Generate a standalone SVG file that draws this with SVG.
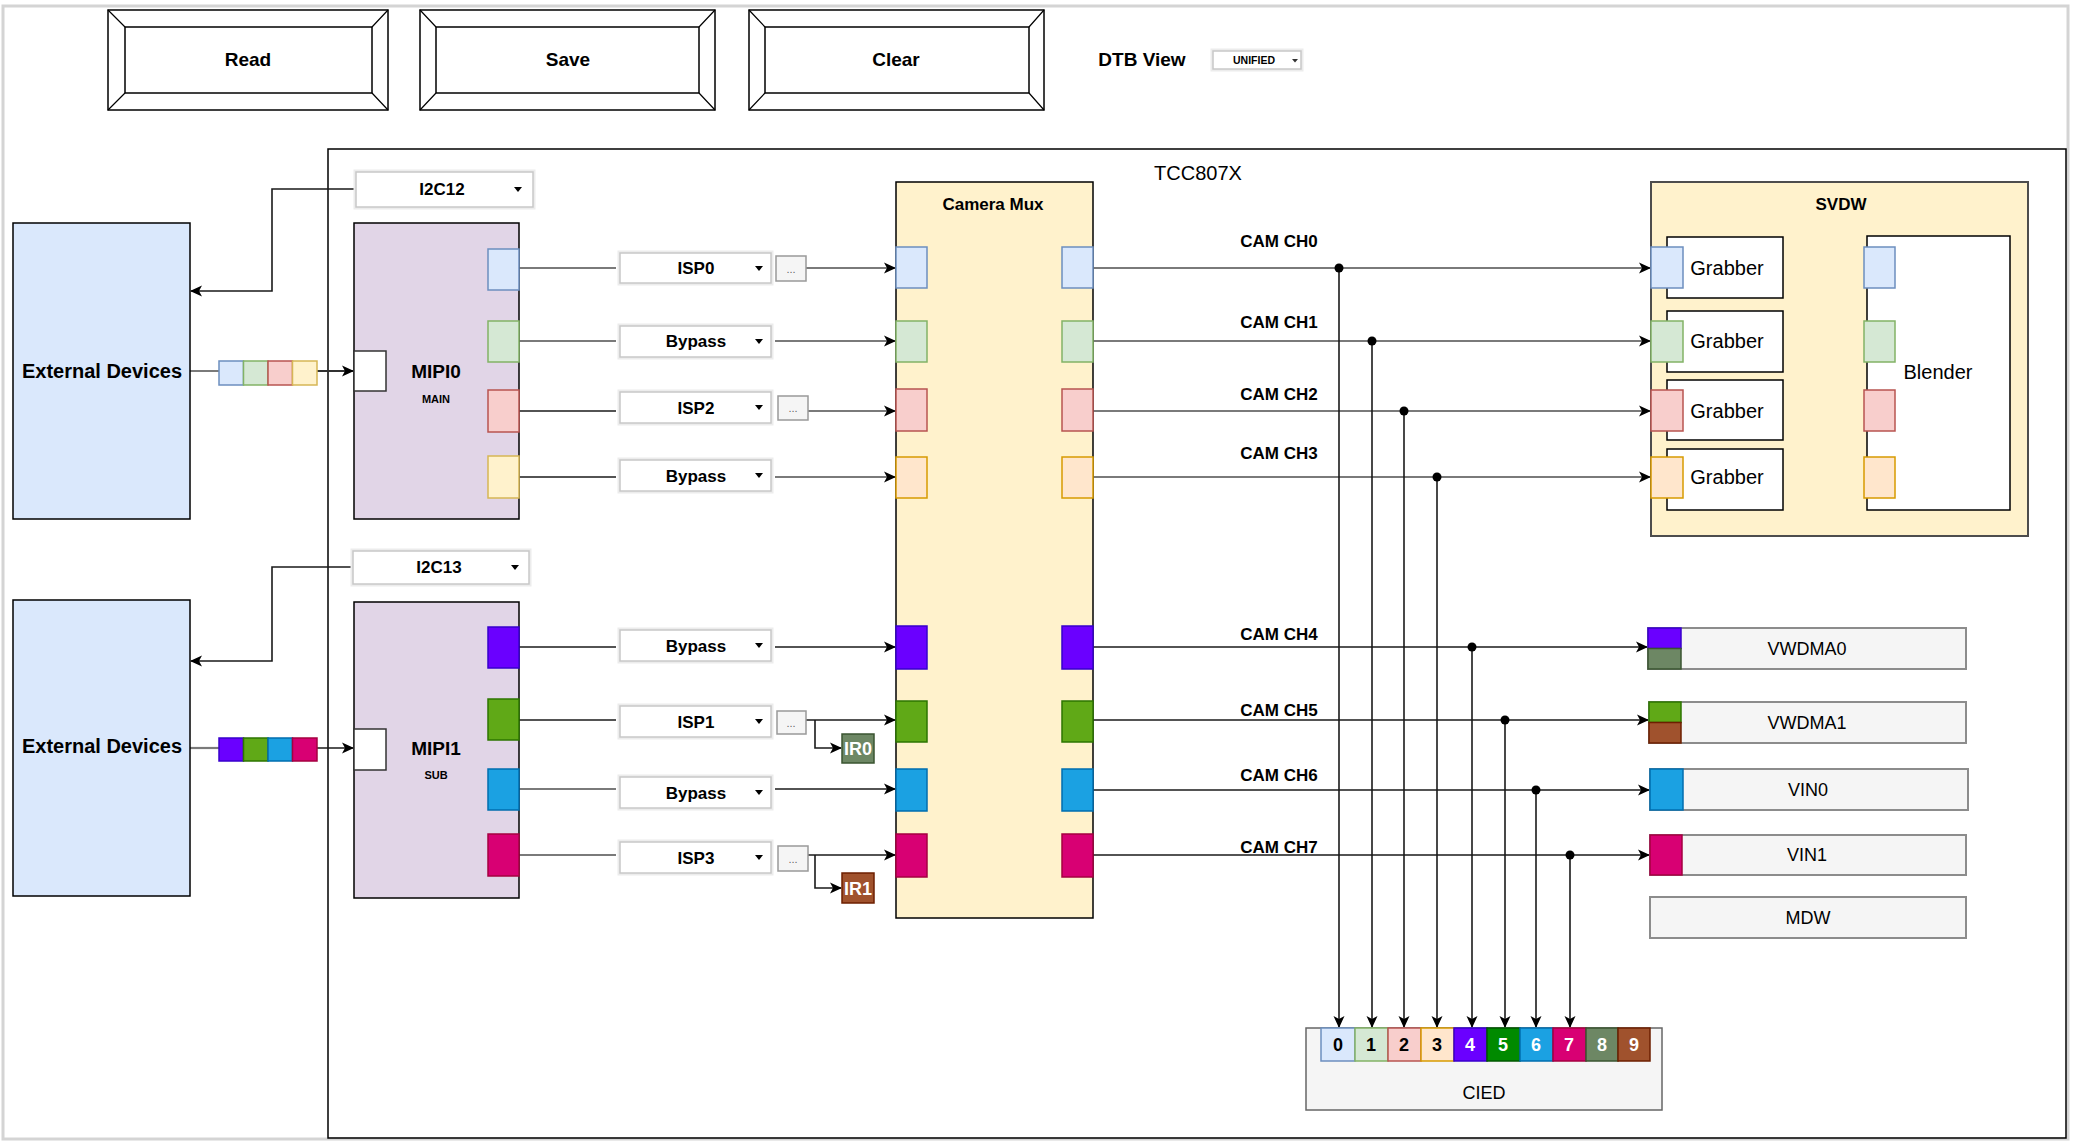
<svg xmlns="http://www.w3.org/2000/svg" width="2073" height="1142" viewBox="0 0 2073 1142">
<defs>
<marker id="arr" markerUnits="userSpaceOnUse" markerWidth="14" markerHeight="14" refX="12" refY="7" orient="auto">
<path d="M1,1.5 L13,7 L1,12.5 L4,7 z" fill="#000"/>
</marker>
<style>
text{font-family:"Liberation Sans",Arial,Helvetica,sans-serif;fill:#000;}
.btn{font-size:19px;font-weight:bold;}
.lbl{font-size:17px;font-weight:bold;}
.ext{font-size:20px;font-weight:bold;}
.mipi{font-size:19px;font-weight:bold;}
.sub{font-size:11px;font-weight:bold;}
.r20{font-size:20px;}
.r18{font-size:18px;}
.cell{font-size:18px;font-weight:bold;}
.w{fill:#fff;}
.frame{fill:none;stroke:#000;stroke-width:1.5;}
.box{stroke:#000;stroke-width:1.5;}
.dd{fill:#fff;stroke:#c8c8c8;stroke-width:1.5;}
.ddsh{fill:none;stroke:#ececec;stroke-width:5;}
.dots{fill:#f5f5f5;stroke:#999;stroke-width:1.5;}
.gbox{fill:#f5f5f5;stroke:#8c8c8c;stroke-width:2;}
.cg{fill:none;stroke:#7a7a7a;stroke-width:2.2;}
.ck{fill:none;stroke:#1a1a1a;stroke-width:1.6;}
.pb{fill:#dae8fc;stroke:#6c8ebf;stroke-width:1.5;}
.pg{fill:#d5e8d4;stroke:#82b366;stroke-width:1.5;}
.pr{fill:#f8cecc;stroke:#b85450;stroke-width:1.5;}
.po{fill:#ffe6cc;stroke:#d79b00;stroke-width:1.5;}
.py{fill:#fff2cc;stroke:#d6b656;stroke-width:1.5;}
.pp{fill:#6a00ff;stroke:#3700cc;stroke-width:1.5;}
.pgr{fill:#60a917;stroke:#2d7600;stroke-width:1.5;}
.pbl{fill:#1ba1e2;stroke:#006eaf;stroke-width:1.5;}
.pm{fill:#d80073;stroke:#a50040;stroke-width:1.5;}
.pdg{fill:#008a00;stroke:#005700;stroke-width:1.5;}
.pol{fill:#6d8764;stroke:#3a5431;stroke-width:1.5;}
.pbr{fill:#a0522d;stroke:#6d1f00;stroke-width:1.5;}
</style>
</defs>
<rect x="0" y="0" width="2073" height="1142" fill="#fff"/>
<rect x="3" y="6" width="2065" height="1133" fill="none" stroke="#d4d4d4" stroke-width="3"/>

<!-- buttons -->
<g id="btn-read">
<rect x="108" y="10" width="280" height="100" fill="#fff" stroke="#000" stroke-width="1.5"/>
<rect x="125" y="27" width="247" height="66" fill="#fff" stroke="#000" stroke-width="1.5"/>
<path d="M108,10 L125,27 M388,10 L372,27 M108,110 L125,93 M388,110 L372,93" stroke="#000" stroke-width="1.2"/>
<text x="248" y="66" class="btn" text-anchor="middle">Read</text>
</g>
<g id="btn-save">
<rect x="420" y="10" width="295" height="100" fill="#fff" stroke="#000" stroke-width="1.5"/>
<rect x="436" y="27" width="263" height="66" fill="#fff" stroke="#000" stroke-width="1.5"/>
<path d="M420,10 L436,27 M715,10 L699,27 M420,110 L436,93 M715,110 L699,93" stroke="#000" stroke-width="1.2"/>
<text x="568" y="66" class="btn" text-anchor="middle">Save</text>
</g>
<g id="btn-clear">
<rect x="749" y="10" width="295" height="100" fill="#fff" stroke="#000" stroke-width="1.5"/>
<rect x="765" y="27" width="264" height="66" fill="#fff" stroke="#000" stroke-width="1.5"/>
<path d="M749,10 L765,27 M1044,10 L1029,27 M749,110 L765,93 M1044,110 L1029,93" stroke="#000" stroke-width="1.2"/>
<text x="896" y="66" class="btn" text-anchor="middle">Clear</text>
</g>
<g id="dtb-view">
<text x="1142" y="66" class="btn" text-anchor="middle">DTB View</text>
<rect x="1213" y="51" width="88" height="18" class="ddsh"/>
<rect x="1213" y="51" width="88" height="18" class="dd"/>
<text x="1254" y="64" font-size="10.5" font-weight="bold" text-anchor="middle">UNIFIED</text>
<polygon points="1292,59 1298,59 1295,62.5" fill="#333"/>
</g>

<!-- TCC807X frame -->
<g id="tcc807x">
<rect x="328" y="149" width="1738" height="989" class="frame"/>
<text x="1198" y="180" class="r20" text-anchor="middle">TCC807X</text>
</g>

<!-- connectors -->
<g id="connectors">
<path d="M356,189 H272 V291 H191" class="ck" marker-end="url(#arr)"/>
<path d="M353,567 H272 V661 H191" class="ck" marker-end="url(#arr)"/>
<path d="M190,371 H219 M317,371 H353" class="cg" stroke-width="2" />
<path d="M317,371 H353" class="ck" marker-end="url(#arr)"/>
<path d="M190,748 H219" class="cg" stroke-width="2"/>
<path d="M317,748 H353" class="ck" marker-end="url(#arr)"/>

<path d="M519,268 H616" class="cg"/>
<path d="M806,268 H895" class="cg" marker-end="url(#arr)"/>
<path d="M519,341 H616" class="cg"/>
<path d="M775,341 H895" class="cg" marker-end="url(#arr)"/>
<path d="M519,411 H616" class="ck"/>
<path d="M808,411 H895" class="cg" marker-end="url(#arr)"/>
<path d="M519,477 H616" class="ck"/>
<path d="M775,477 H895" class="cg" marker-end="url(#arr)"/>

<path d="M519,647 H616" class="ck"/>
<path d="M775,647 H895" class="ck" marker-end="url(#arr)"/>
<path d="M519,720 H616" class="ck"/>
<path d="M806,720 H895" class="ck" marker-end="url(#arr)"/>
<path d="M815,720 V748 H841" class="ck" marker-end="url(#arr)"/>
<path d="M519,789 H616" class="cg"/>
<path d="M775,789 H895" class="ck" marker-end="url(#arr)"/>
<path d="M519,855 H616" class="cg"/>
<path d="M808,855 H895" class="ck" marker-end="url(#arr)"/>
<path d="M815,855 V888 H841" class="ck" marker-end="url(#arr)"/>

<path d="M1093,268 H1650" class="cg" marker-end="url(#arr)"/>
<path d="M1093,341 H1650" class="cg" marker-end="url(#arr)"/>
<path d="M1093,411 H1650" class="cg" marker-end="url(#arr)"/>
<path d="M1093,477 H1650" class="cg" marker-end="url(#arr)"/>
<path d="M1093,647 H1647" class="ck" marker-end="url(#arr)"/>
<path d="M1093,720 H1648" class="ck" marker-end="url(#arr)"/>
<path d="M1093,790 H1649" class="ck" marker-end="url(#arr)"/>
<path d="M1093,855 H1649" class="ck" marker-end="url(#arr)"/>

<path d="M1339,268 V1027" class="ck" marker-end="url(#arr)"/>
<path d="M1372,341 V1027" class="ck" marker-end="url(#arr)"/>
<path d="M1404,411 V1027" class="ck" marker-end="url(#arr)"/>
<path d="M1437,477 V1027" class="ck" marker-end="url(#arr)"/>
<path d="M1472,647 V1027" class="ck" marker-end="url(#arr)"/>
<path d="M1505,720 V1027" class="ck" marker-end="url(#arr)"/>
<path d="M1536,790 V1027" class="ck" marker-end="url(#arr)"/>
<path d="M1570,855 V1027" class="ck" marker-end="url(#arr)"/>
<g fill="#000">
<circle cx="1339" cy="268" r="4.5"/>
<circle cx="1372" cy="341" r="4.5"/>
<circle cx="1404" cy="411" r="4.5"/>
<circle cx="1437" cy="477" r="4.5"/>
<circle cx="1472" cy="647" r="4.5"/>
<circle cx="1505" cy="720" r="4.5"/>
<circle cx="1536" cy="790" r="4.5"/>
<circle cx="1570" cy="855" r="4.5"/>
</g>

<path d="M1783,268 H1863" class="cg" marker-end="url(#arr)"/>
<path d="M1783,341 H1863" class="cg" marker-end="url(#arr)"/>
<path d="M1783,411 H1863" class="cg" marker-end="url(#arr)"/>
<path d="M1783,477 H1863" class="cg" marker-end="url(#arr)"/>

<g class="lbl" text-anchor="middle">
<text x="1279" y="247">CAM CH0</text>
<text x="1279" y="328">CAM CH1</text>
<text x="1279" y="400">CAM CH2</text>
<text x="1279" y="459">CAM CH3</text>
<text x="1279" y="640">CAM CH4</text>
<text x="1279" y="716">CAM CH5</text>
<text x="1279" y="781">CAM CH6</text>
<text x="1279" y="853">CAM CH7</text>
</g>
</g>

<!-- External devices -->
<g id="ext-dev-0">
<rect x="13" y="223" width="177" height="296" fill="#dae8fc" class="box"/>
<text x="102" y="378" class="ext" text-anchor="middle">External Devices</text>
</g>
<g id="ext-dev-1">
<rect x="13" y="600" width="177" height="296" fill="#dae8fc" class="box"/>
<text x="102" y="753" class="ext" text-anchor="middle">External Devices</text>
</g>
<g id="stream-0">
<rect x="219" y="361" width="24.5" height="24" class="pb"/>
<rect x="243.5" y="361" width="24.5" height="24" class="pg"/>
<rect x="268" y="361" width="24.5" height="24" class="pr"/>
<rect x="292.5" y="361" width="24.5" height="24" class="py"/>
</g>
<g id="stream-1">
<rect x="219" y="738" width="24.5" height="23" class="pp"/>
<rect x="243.5" y="738" width="24.5" height="23" class="pgr"/>
<rect x="268" y="738" width="24.5" height="23" class="pbl"/>
<rect x="292.5" y="738" width="24.5" height="23" class="pm"/>
</g>

<!-- I2C dropdowns -->
<g id="i2c12">
<rect x="356" y="172" width="177" height="35" class="ddsh"/>
<rect x="356" y="172" width="177" height="35" class="dd"/>
<text x="442" y="195" class="lbl" text-anchor="middle">I2C12</text>
<polygon points="514,187 522,187 518,192" fill="#000"/>
</g>
<g id="i2c13">
<rect x="353" y="551" width="176" height="33" class="ddsh"/>
<rect x="353" y="551" width="176" height="33" class="dd"/>
<text x="439" y="573" class="lbl" text-anchor="middle">I2C13</text>
<polygon points="511,565 519,565 515,570" fill="#000"/>
</g>

<!-- MIPI0 -->
<g id="mipi0">
<rect x="354" y="223" width="165" height="296" fill="#e1d5e7" class="box"/>
<rect x="354" y="351" width="32" height="40" fill="#fff" stroke="#333" stroke-width="1.5"/>
<text x="436" y="378" class="mipi" text-anchor="middle">MIPI0</text>
<text x="436" y="403" class="sub" text-anchor="middle">MAIN</text>
<rect x="488" y="249" width="31" height="41" class="pb"/>
<rect x="488" y="321" width="31" height="41" class="pg"/>
<rect x="488" y="390" width="31" height="42" class="pr"/>
<rect x="488" y="456" width="31" height="42" class="py"/>
</g>
<!-- MIPI1 -->
<g id="mipi1">
<rect x="354" y="602" width="165" height="296" fill="#e1d5e7" class="box"/>
<rect x="354" y="729" width="32" height="41" fill="#fff" stroke="#333" stroke-width="1.5"/>
<text x="436" y="755" class="mipi" text-anchor="middle">MIPI1</text>
<text x="436" y="779" class="sub" text-anchor="middle">SUB</text>
<rect x="488" y="627" width="31" height="41" class="pp"/>
<rect x="488" y="699" width="31" height="41" class="pgr"/>
<rect x="488" y="769" width="31" height="41" class="pbl"/>
<rect x="488" y="834" width="31" height="42" class="pm"/>
</g>

<!-- ISP / Bypass dropdowns -->
<g id="isp0">
<rect x="620" y="253" width="151" height="30" class="ddsh"/>
<rect x="620" y="253" width="151" height="30" class="dd"/>
<text x="696" y="274" class="lbl" text-anchor="middle">ISP0</text>
<polygon points="755,266 763,266 759,271" fill="#000"/>
<rect x="776" y="256" width="30" height="25" class="dots"/>
<text x="791" y="273" font-size="11" fill="#666" text-anchor="middle" style="fill:#666">...</text>
</g>
<g id="bypass-0">
<rect x="620" y="326" width="151" height="31" class="ddsh"/>
<rect x="620" y="326" width="151" height="31" class="dd"/>
<text x="696" y="347" class="lbl" text-anchor="middle">Bypass</text>
<polygon points="755,339 763,339 759,344" fill="#000"/>
</g>
<g id="isp2">
<rect x="620" y="392" width="151" height="31" class="ddsh"/>
<rect x="620" y="392" width="151" height="31" class="dd"/>
<text x="696" y="414" class="lbl" text-anchor="middle">ISP2</text>
<polygon points="755,405 763,405 759,410" fill="#000"/>
<rect x="778" y="396" width="30" height="24" class="dots"/>
<text x="793" y="412" font-size="11" text-anchor="middle" style="fill:#666">...</text>
</g>
<g id="bypass-1">
<rect x="620" y="460" width="151" height="31" class="ddsh"/>
<rect x="620" y="460" width="151" height="31" class="dd"/>
<text x="696" y="482" class="lbl" text-anchor="middle">Bypass</text>
<polygon points="755,473 763,473 759,478" fill="#000"/>
</g>
<g id="bypass-2">
<rect x="620" y="630" width="151" height="31" class="ddsh"/>
<rect x="620" y="630" width="151" height="31" class="dd"/>
<text x="696" y="652" class="lbl" text-anchor="middle">Bypass</text>
<polygon points="755,643 763,643 759,648" fill="#000"/>
</g>
<g id="isp1">
<rect x="620" y="706" width="151" height="31" class="ddsh"/>
<rect x="620" y="706" width="151" height="31" class="dd"/>
<text x="696" y="728" class="lbl" text-anchor="middle">ISP1</text>
<polygon points="755,719 763,719 759,724" fill="#000"/>
<rect x="777" y="711" width="29" height="23" class="dots"/>
<text x="791" y="727" font-size="11" text-anchor="middle" style="fill:#666">...</text>
</g>
<g id="bypass-3">
<rect x="620" y="777" width="151" height="31" class="ddsh"/>
<rect x="620" y="777" width="151" height="31" class="dd"/>
<text x="696" y="799" class="lbl" text-anchor="middle">Bypass</text>
<polygon points="755,790 763,790 759,795" fill="#000"/>
</g>
<g id="isp3">
<rect x="620" y="842" width="151" height="31" class="ddsh"/>
<rect x="620" y="842" width="151" height="31" class="dd"/>
<text x="696" y="864" class="lbl" text-anchor="middle">ISP3</text>
<polygon points="755,855 763,855 759,860" fill="#000"/>
<rect x="778" y="846" width="30" height="25" class="dots"/>
<text x="793" y="863" font-size="11" text-anchor="middle" style="fill:#666">...</text>
</g>
<g id="ir0">
<rect x="842" y="734" width="32" height="29" class="pol"/>
<text x="858" y="755" class="cell" text-anchor="middle" style="fill:#fff">IR0</text>
</g>
<g id="ir1">
<rect x="842" y="873" width="32" height="30" class="pbr"/>
<text x="858" y="895" class="cell" text-anchor="middle" style="fill:#fff">IR1</text>
</g>

<!-- Camera Mux -->
<g id="camera-mux">
<rect x="896" y="182" width="197" height="736" fill="#fff2cc" class="box"/>
<text x="993" y="210" class="lbl" text-anchor="middle">Camera Mux</text>
<rect x="896" y="247" width="31" height="41" class="pb"/>
<rect x="896" y="321" width="31" height="41" class="pg"/>
<rect x="896" y="389" width="31" height="42" class="pr"/>
<rect x="896" y="457" width="31" height="41" class="po"/>
<rect x="896" y="626" width="31" height="43" class="pp"/>
<rect x="896" y="701" width="31" height="41" class="pgr"/>
<rect x="896" y="769" width="31" height="42" class="pbl"/>
<rect x="896" y="834" width="31" height="43" class="pm"/>
<rect x="1062" y="247" width="31" height="41" class="pb"/>
<rect x="1062" y="321" width="31" height="41" class="pg"/>
<rect x="1062" y="389" width="31" height="42" class="pr"/>
<rect x="1062" y="457" width="31" height="41" class="po"/>
<rect x="1062" y="626" width="31" height="43" class="pp"/>
<rect x="1062" y="701" width="31" height="41" class="pgr"/>
<rect x="1062" y="769" width="31" height="42" class="pbl"/>
<rect x="1062" y="834" width="31" height="43" class="pm"/>
</g>

<!-- SVDW -->
<g id="svdw">
<rect x="1651" y="182" width="377" height="354" fill="#fff2cc" stroke="#4d4d4d" stroke-width="2"/>
<text x="1841" y="210" class="lbl" text-anchor="middle">SVDW</text>
</g>
<g id="grabber-0">
<rect x="1667" y="237" width="116" height="61" fill="#fff" class="box"/>
<rect x="1651" y="247" width="32" height="41" class="pb"/>
<text x="1727" y="275" class="r20" text-anchor="middle">Grabber</text>
</g>
<g id="grabber-1">
<rect x="1667" y="311" width="116" height="61" fill="#fff" class="box"/>
<rect x="1651" y="321" width="32" height="41" class="pg"/>
<text x="1727" y="348" class="r20" text-anchor="middle">Grabber</text>
</g>
<g id="grabber-2">
<rect x="1667" y="380" width="116" height="60" fill="#fff" class="box"/>
<rect x="1651" y="390" width="32" height="41" class="pr"/>
<text x="1727" y="418" class="r20" text-anchor="middle">Grabber</text>
</g>
<g id="grabber-3">
<rect x="1667" y="449" width="116" height="61" fill="#fff" class="box"/>
<rect x="1651" y="457" width="32" height="41" class="po"/>
<text x="1727" y="484" class="r20" text-anchor="middle">Grabber</text>
</g>
<g id="blender">
<rect x="1867" y="236" width="143" height="274" fill="#fff" class="box"/>
<text x="1938" y="379" class="r20" text-anchor="middle">Blender</text>
<rect x="1864" y="247" width="31" height="41" class="pb"/>
<rect x="1864" y="321" width="31" height="41" class="pg"/>
<rect x="1864" y="390" width="31" height="41" class="pr"/>
<rect x="1864" y="457" width="31" height="41" class="po"/>
</g>

<!-- Right side outputs -->
<g id="vwdma0">
<rect x="1648" y="628" width="318" height="41" class="gbox"/>
<rect x="1648" y="628" width="33" height="20.5" class="pp"/>
<rect x="1648" y="648.5" width="33" height="20.5" class="pol"/>
<text x="1807" y="655" class="r18" text-anchor="middle">VWDMA0</text>
</g>
<g id="vwdma1">
<rect x="1649" y="702" width="317" height="41" class="gbox"/>
<rect x="1649" y="702" width="32" height="20.5" class="pgr"/>
<rect x="1649" y="722.5" width="32" height="20.5" class="pbr"/>
<text x="1807" y="729" class="r18" text-anchor="middle">VWDMA1</text>
</g>
<g id="vin0">
<rect x="1650" y="769" width="318" height="41" class="gbox"/>
<rect x="1650" y="769" width="33" height="41" class="pbl"/>
<text x="1808" y="796" class="r18" text-anchor="middle">VIN0</text>
</g>
<g id="vin1">
<rect x="1650" y="835" width="316" height="40" class="gbox"/>
<rect x="1650" y="835" width="32" height="40" class="pm"/>
<text x="1807" y="861" class="r18" text-anchor="middle">VIN1</text>
</g>
<g id="mdw">
<rect x="1650" y="897" width="316" height="41" class="gbox"/>
<text x="1808" y="924" class="r18" text-anchor="middle">MDW</text>
</g>

<!-- CIED -->
<g id="cied">
<rect x="1306" y="1028" width="356" height="82" fill="#f5f5f5" stroke="#666" stroke-width="1.5"/>
<text x="1484" y="1099" class="r18" text-anchor="middle">CIED</text>
<rect x="1321" y="1028" width="34" height="33" class="pb"/>
<rect x="1355" y="1028" width="33" height="33" class="pg"/>
<rect x="1388" y="1028" width="33" height="33" class="pr"/>
<rect x="1421" y="1028" width="33" height="33" class="po"/>
<rect x="1454" y="1028" width="33" height="33" class="pp"/>
<rect x="1487" y="1028" width="33" height="33" class="pdg"/>
<rect x="1520" y="1028" width="33" height="33" class="pbl"/>
<rect x="1553" y="1028" width="33" height="33" class="pm"/>
<rect x="1586" y="1028" width="32" height="33" class="pol"/>
<rect x="1618" y="1028" width="32" height="33" class="pbr"/>
<g class="cell" text-anchor="middle">
<text x="1338" y="1051">0</text>
<text x="1371" y="1051">1</text>
<text x="1404" y="1051">2</text>
<text x="1437" y="1051">3</text>
<text x="1470" y="1051" style="fill:#fff">4</text>
<text x="1503" y="1051" style="fill:#fff">5</text>
<text x="1536" y="1051" style="fill:#fff">6</text>
<text x="1569" y="1051" style="fill:#fff">7</text>
<text x="1602" y="1051" style="fill:#fff">8</text>
<text x="1634" y="1051" style="fill:#fff">9</text>
</g>
</g>
</svg>
